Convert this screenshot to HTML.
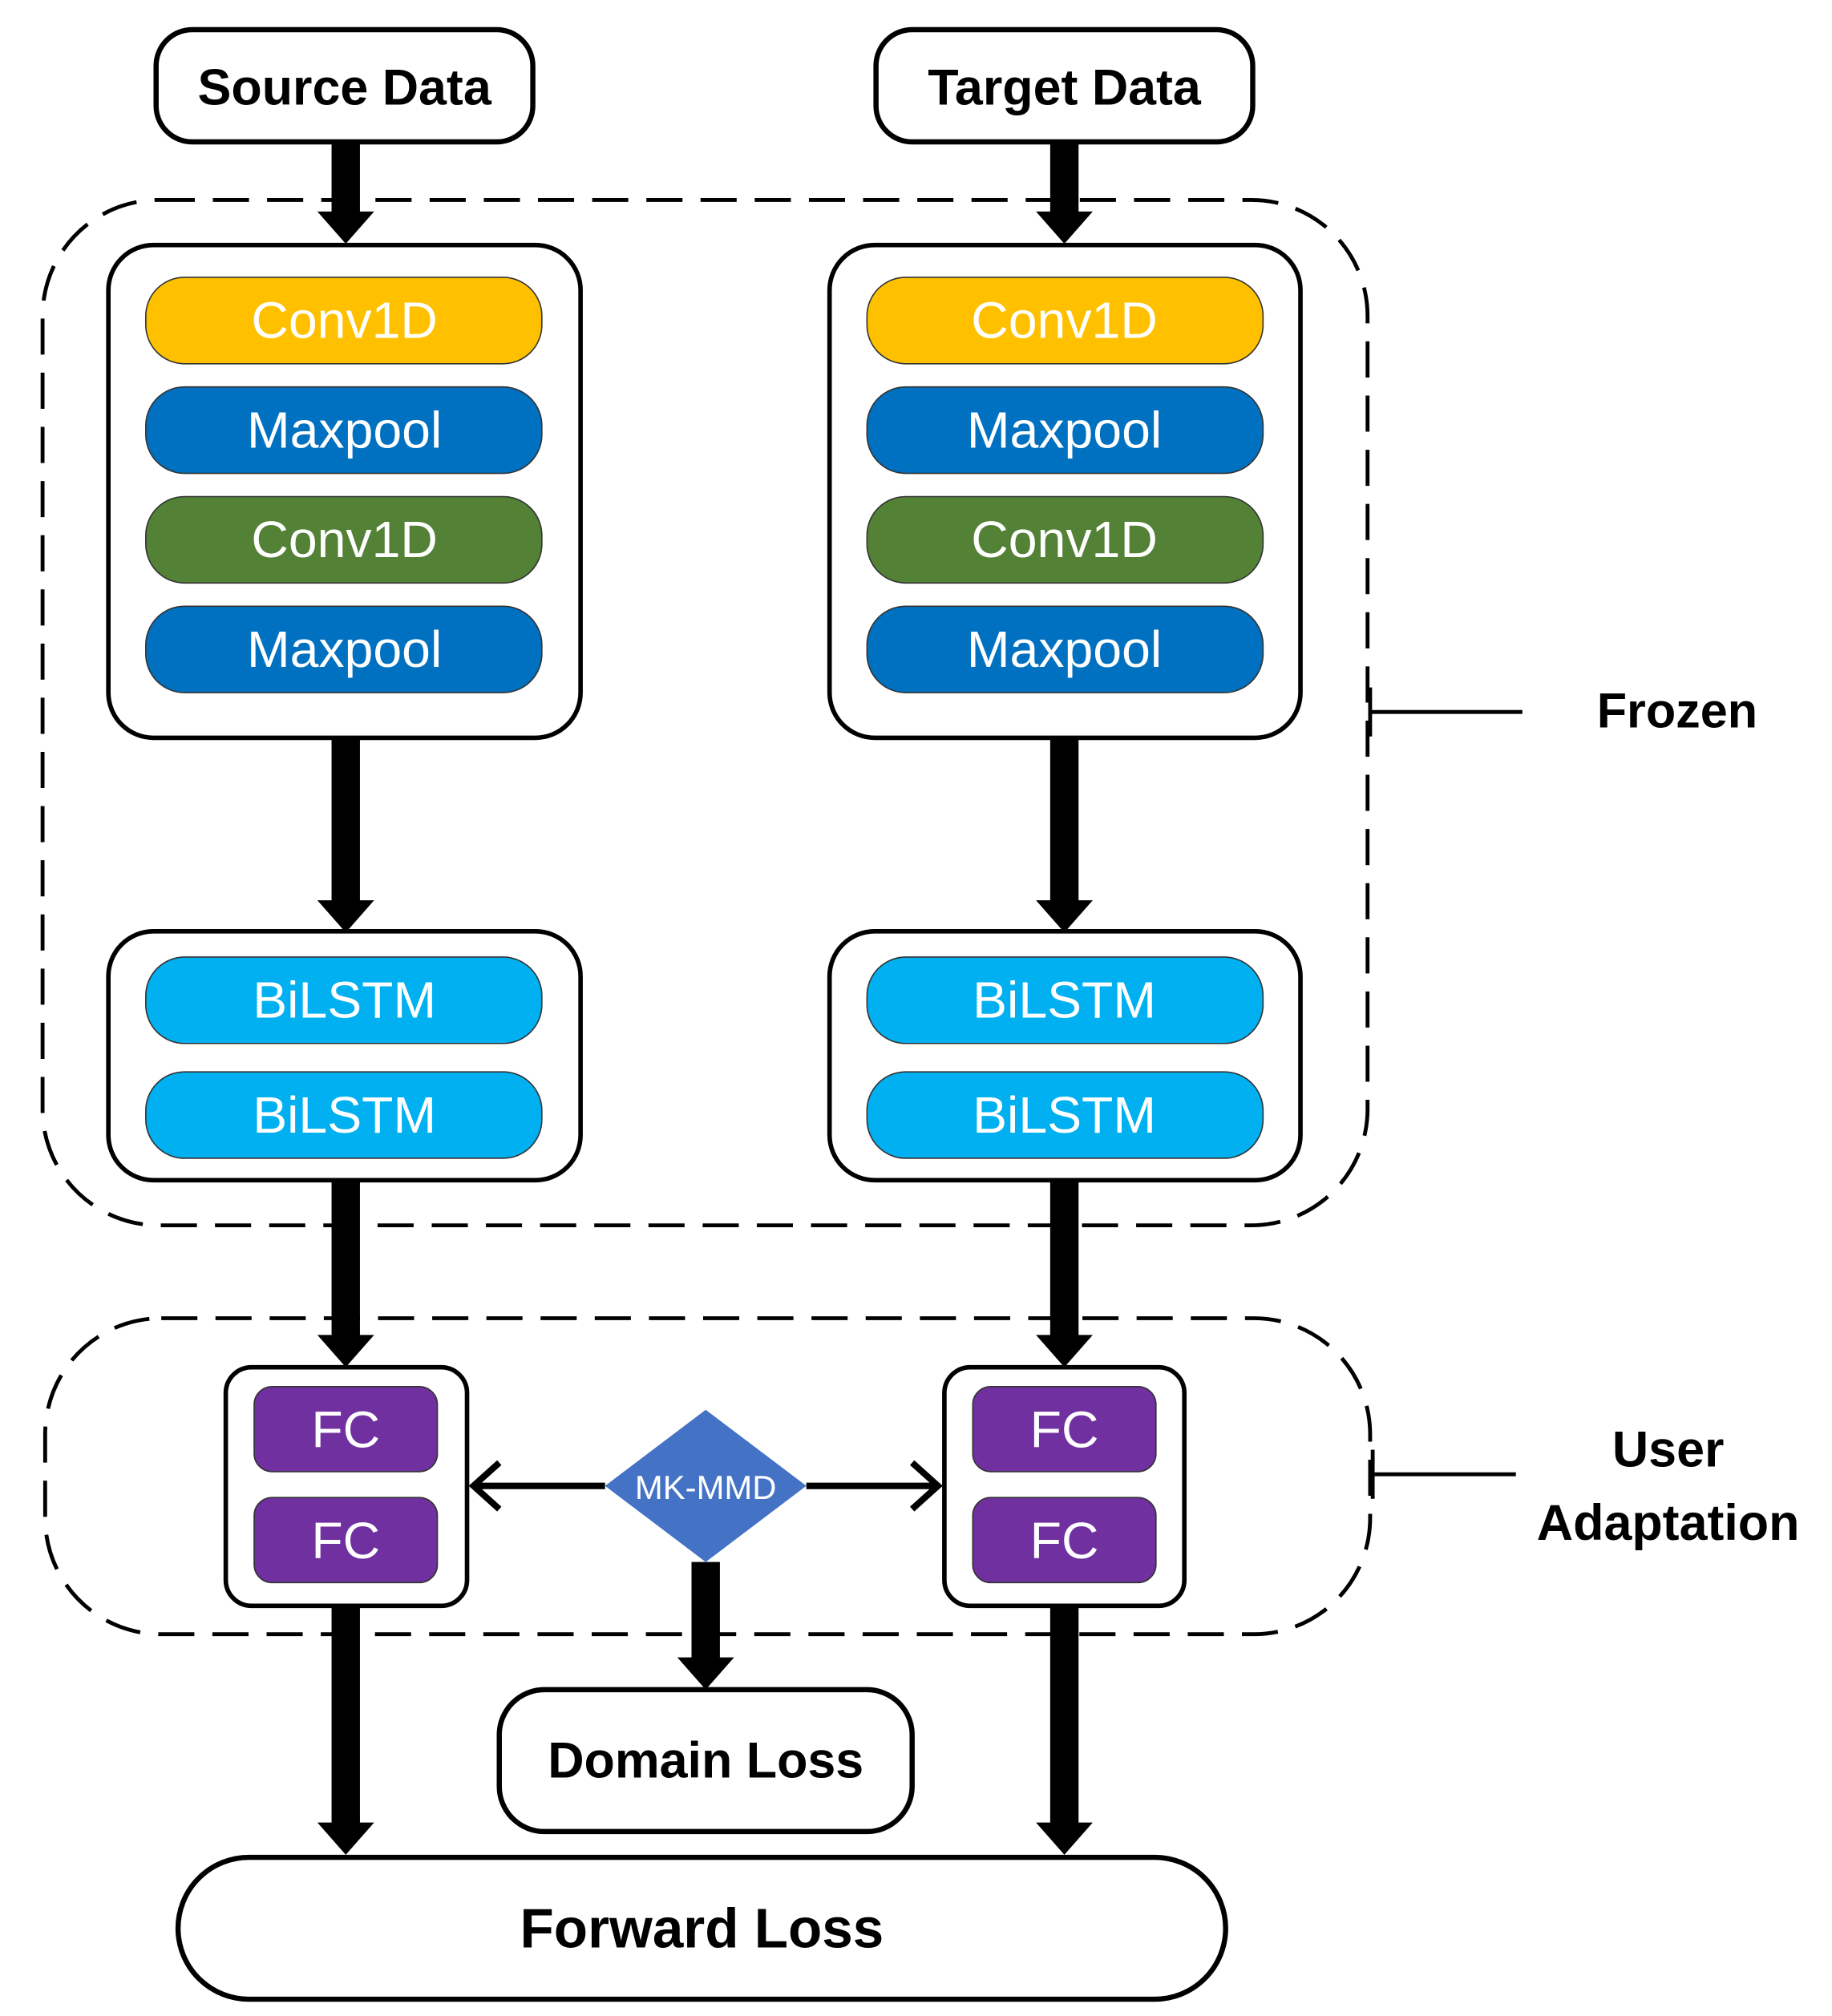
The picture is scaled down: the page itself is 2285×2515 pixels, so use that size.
<!DOCTYPE html>
<html><head><meta charset="utf-8"><style>
html,body{margin:0;padding:0;background:#fff}
svg{display:block}
text{font-family:"Liberation Sans",sans-serif}
</style></head><body>
<svg width="2285" height="2515" viewBox="0 0 1420 1563" xmlns="http://www.w3.org/2000/svg" preserveAspectRatio="none">
<rect x="33" y="155" width="1027" height="795" rx="90" fill="none" stroke="#000" stroke-width="3" stroke-dasharray="28,14"/>
<rect x="35" y="1022" width="1027" height="245" rx="90" fill="none" stroke="#000" stroke-width="3" stroke-dasharray="28,14"/>

<g fill="#000">
<rect x="257" y="110" width="22" height="56"/><polygon points="246,164 290,164 268,189"/>
<rect x="814" y="110" width="22" height="56"/><polygon points="803,164 847,164 825,189"/>
<rect x="257" y="572" width="22" height="128"/><polygon points="246,698 290,698 268,723"/>
<rect x="814" y="572" width="22" height="128"/><polygon points="803,698 847,698 825,723"/>
<rect x="257" y="915" width="22" height="122"/><polygon points="246,1035 290,1035 268,1060"/>
<rect x="814" y="915" width="22" height="122"/><polygon points="803,1035 847,1035 825,1060"/>
<rect x="257" y="1245" width="22" height="170"/><polygon points="246,1413 290,1413 268,1438"/>
<rect x="814" y="1245" width="22" height="170"/><polygon points="803,1413 847,1413 825,1438"/>
<rect x="536" y="1211" width="22" height="76"/><polygon points="525,1285 569,1285 547,1310"/>
</g>

<rect x="121" y="23" width="292" height="87" rx="28" fill="#fff" stroke="#000" stroke-width="4"/>
<text x="267" y="81" font-size="39" font-weight="bold" text-anchor="middle">Source Data</text>
<rect x="679" y="23" width="292" height="87" rx="28" fill="#fff" stroke="#000" stroke-width="4"/>
<text x="825" y="81" font-size="39" font-weight="bold" text-anchor="middle">Target Data</text>

<g stroke="#000" stroke-width="3.5" fill="#fff">
<rect x="84" y="190" width="366" height="382" rx="35"/>
<rect x="643" y="190" width="365" height="382" rx="35"/>
<rect x="84" y="722" width="366" height="193" rx="35"/>
<rect x="643" y="722" width="365" height="193" rx="35"/>
<rect x="175" y="1060" width="187" height="185" rx="20"/>
<rect x="732" y="1060" width="186" height="185" rx="20"/>
</g>
<g stroke="#333" stroke-width="1">
<rect x="113" y="215" width="307" height="67" rx="30" fill="#FFC000"/>
<rect x="113" y="300" width="307" height="67" rx="30" fill="#0070C0"/>
<rect x="113" y="385" width="307" height="67" rx="30" fill="#538135"/>
<rect x="113" y="470" width="307" height="67" rx="30" fill="#0070C0"/>
<rect x="672" y="215" width="307" height="67" rx="30" fill="#FFC000"/>
<rect x="672" y="300" width="307" height="67" rx="30" fill="#0070C0"/>
<rect x="672" y="385" width="307" height="67" rx="30" fill="#538135"/>
<rect x="672" y="470" width="307" height="67" rx="30" fill="#0070C0"/>
<rect x="113" y="742" width="307" height="67" rx="30" fill="#00B0F0"/>
<rect x="113" y="831" width="307" height="67" rx="30" fill="#00B0F0"/>
<rect x="672" y="742" width="307" height="67" rx="30" fill="#00B0F0"/>
<rect x="672" y="831" width="307" height="67" rx="30" fill="#00B0F0"/>
<rect x="197" y="1075" width="142" height="66" rx="14" fill="#7030A0"/>
<rect x="197" y="1161" width="142" height="66" rx="14" fill="#7030A0"/>
<rect x="754" y="1075" width="142" height="66" rx="14" fill="#7030A0"/>
<rect x="754" y="1161" width="142" height="66" rx="14" fill="#7030A0"/>
</g>
<g fill="#fff" font-size="40" text-anchor="middle">
<text x="267" y="262">Conv1D</text><text x="267" y="347">Maxpool</text>
<text x="267" y="432">Conv1D</text><text x="267" y="517">Maxpool</text>
<text x="825" y="262">Conv1D</text><text x="825" y="347">Maxpool</text>
<text x="825" y="432">Conv1D</text><text x="825" y="517">Maxpool</text>
<text x="267" y="789">BiLSTM</text><text x="267" y="878">BiLSTM</text>
<text x="825" y="789">BiLSTM</text><text x="825" y="878">BiLSTM</text>
<text x="268" y="1122">FC</text><text x="268" y="1208">FC</text>
<text x="825" y="1122">FC</text><text x="825" y="1208">FC</text>
</g>

<polygon points="547,1093 625,1152 547,1211 469,1152" fill="#4472C4"/>
<text x="547" y="1162" font-size="26" fill="#fff" text-anchor="middle">MK-MMD</text>
<g stroke="#000" stroke-width="5" fill="none">
<line x1="469" y1="1152" x2="367" y2="1152"/>
<polyline points="387,1134 367,1152 387,1170"/>
<line x1="625" y1="1152" x2="727" y2="1152"/>
<polyline points="707,1134 727,1152 707,1170"/>
</g>

<rect x="387" y="1310" width="320" height="110" rx="35" fill="#fff" stroke="#000" stroke-width="4"/>
<text x="547" y="1378" font-size="39" font-weight="bold" text-anchor="middle">Domain Loss</text>
<rect x="138" y="1440" width="812" height="110" rx="55" fill="#fff" stroke="#000" stroke-width="4"/>
<text x="544" y="1510" font-size="43" font-weight="bold" text-anchor="middle">Forward Loss</text>

<g stroke="#000" stroke-width="3">
<line x1="1062" y1="533" x2="1062" y2="571"/><line x1="1062" y1="552" x2="1180" y2="552"/>
<line x1="1064" y1="1124" x2="1064" y2="1162"/><line x1="1064" y1="1143" x2="1175" y2="1143"/>
</g>
<text x="1300" y="564" font-size="38" font-weight="bold" text-anchor="middle">Frozen</text>
<text x="1293" y="1137" font-size="39" font-weight="bold" text-anchor="middle">User</text>
<text x="1293" y="1194" font-size="39" font-weight="bold" text-anchor="middle">Adaptation</text>
</svg>
</body></html>
